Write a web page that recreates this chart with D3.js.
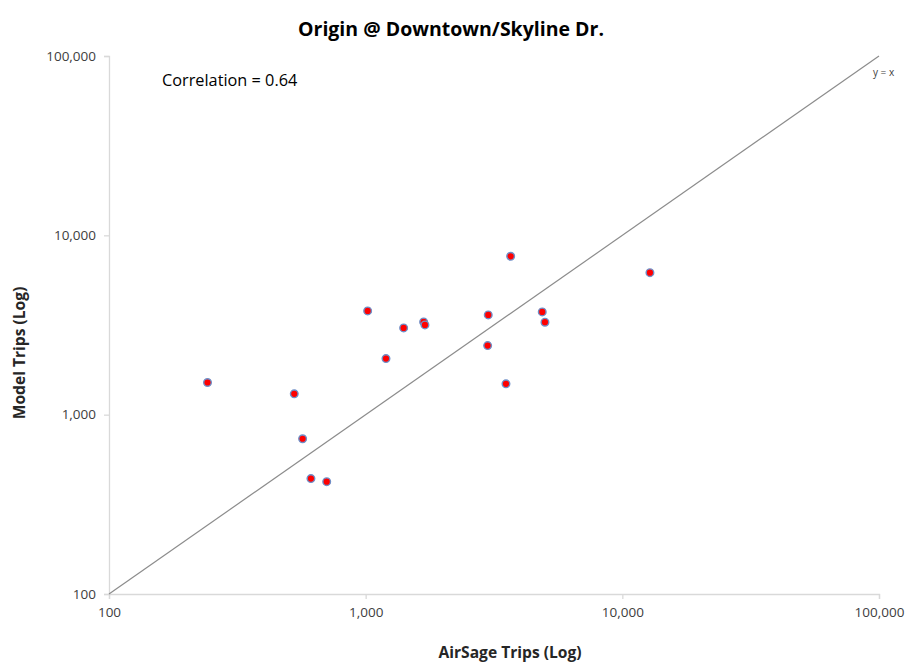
<!DOCTYPE html>
<meta charset="utf-8">
<script src="https://d3js.org/d3.v7.min.js"></script>
<style>
  body { margin: 0; background: #fff; }
  text { font-family: "Open Sans", "Noto Sans", sans-serif; }
</style>
<body>
  <div id="container"></div>
</body>
<script>
    // AirSage vs model trips
    var airsage = [242, 527, 568, 612, 705, 1018, 1406, 1682, 1702, 1200, 3672, 12810, 3003, 4875, 4995, 2987, 3521];
    var model   = [1511, 1307, 734, 440, 423, 3789, 3046, 3289, 3167, 2055, 7640, 6190, 3600, 3741, 3278, 2428, 1486];
    var tickValues = [100, 1000, 10000, 100000];
    var identityLine = [100, 100000];

    var margin = {top: 56, right: 28, bottom: 69, left: 109},
        width = 907 - margin.left - margin.right,
        height = 663 - margin.top - margin.bottom;

    var svg = d3.select("#container")
      .append("svg")
      .attr("width", 907)
      .attr("height", 663);

    var g = svg.append("g")
      .attr("transform", "translate(" + margin.left + "," + margin.top + ")");

    var x = d3.scaleLog().domain([100, 100000]).range([0, width]);
    var y = d3.scaleLog().domain([100, 100000]).range([height, 0]);
    var fmt = d3.format(",");

    // x axis
    var xAxis = g.append("g")
      .attr("transform", "translate(0," + height + ")")
      .call(d3.axisBottom(x).tickValues(tickValues).tickFormat(fmt).tickSize(5).tickPadding(8));
    // y axis
    var yAxis = g.append("g")
      .call(d3.axisLeft(y).tickValues(tickValues).tickFormat(fmt).tickSize(5).tickPadding(8));

    [xAxis, yAxis].forEach(function(a) {
      a.select(".domain").attr("stroke", "#d9d9d9").attr("stroke-width", 1.3);
      a.selectAll(".tick line").attr("stroke", "#d9d9d9").attr("stroke-width", 1.3);
      a.selectAll(".tick text")
        .attr("fill", "#404040")
        .style("font-size", "13.5px")
        .style("font-family", "'Open Sans', sans-serif");
    });

    // y = x line
    g.append("line")
      .attr("x1", x(identityLine[0]))
      .attr("y1", y(identityLine[0]))
      .attr("x2", x(identityLine[1]))
      .attr("y2", y(identityLine[1]))
      .attr("stroke", "#8c8c8c")
      .attr("stroke-width", 1.2);

    g.append("text")
      .attr("x", x(identityLine[1]) - 6)
      .attr("y", y(identityLine[1]) + 20)
      .attr("font-size", "10px")
      .attr("fill", "#404040")
      .text("y = x");

    // dots
    var data = airsage.map(function(d, i) { return {a: d, m: model[i]}; });
    g.append("g")
      .selectAll("circle")
      .data(data)
      .enter()
      .append("circle")
        .attr("cx", function(d) { return x(d.a); })
        .attr("cy", function(d) { return y(d.m); })
        .attr("r", 3.8)
        .style("fill", "#ff0000")
        .style("stroke", "#6f8fc8")
        .style("stroke-width", 1.4);

    // titles
    svg.append("text")
      .attr("x", 451)
      .attr("y", 36)
      .attr("text-anchor", "middle")
      .attr("font-weight", "bold")
      .attr("font-size", "19.5px")
      .attr("fill", "#000")
      .text("Origin @ Downtown/Skyline Dr.");

    svg.append("text")
      .attr("x", 162)
      .attr("y", 86)
      .attr("font-size", "16.3px")
      .attr("fill", "#000")
      .text("Correlation = 0.64");

    svg.append("text")
      .attr("x", 510)
      .attr("y", 658)
      .attr("text-anchor", "middle")
      .attr("font-weight", "bold")
      .attr("font-size", "15.6px")
      .attr("fill", "#262626")
      .text("AirSage Trips (Log)");

    svg.append("text")
      .attr("transform", "translate(25,353) rotate(-90)")
      .attr("text-anchor", "middle")
      .attr("font-weight", "bold")
      .attr("font-size", "15.6px")
      .attr("fill", "#262626")
      .text("Model Trips (Log)");
</script>
